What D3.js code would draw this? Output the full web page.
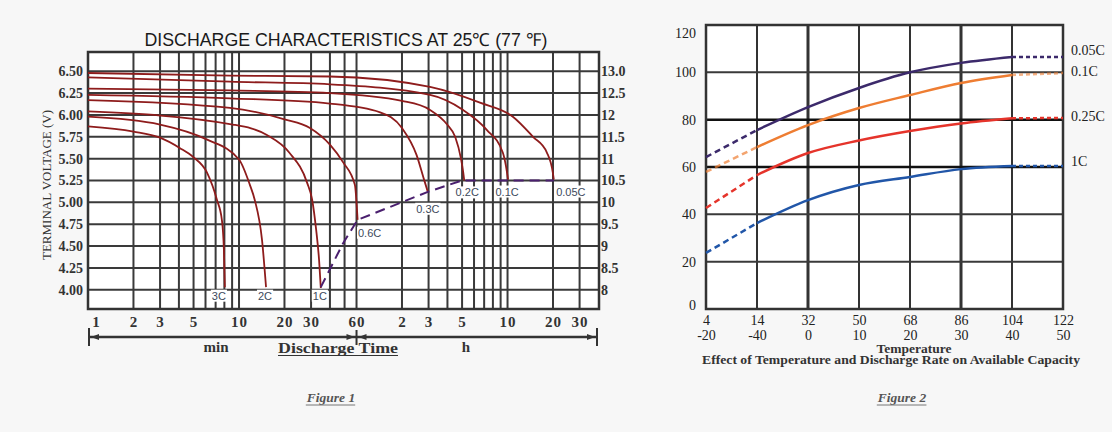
<!DOCTYPE html>
<html>
<head>
<meta charset="utf-8">
<script src="https://cdn.jsdelivr.net/npm/d3@7"></script>
<style>
body { margin: 0; background: #f7f7f7; }
svg { display: block; }
</style>
</head>
<body>
<script>
// ---------- Figure 1 : discharge curves, [minutes, volts] ----------
var rates = ["3C", "2C", "1C", "0.6C", "0.3C", "0.2C", "0.1C", "0.05C"];
var c3C   = [[1,5.87],[2,5.81],[3,5.74],[4.07,5.62],[4.96,5.52],[6.14,5.34],[7.14,5.03],[7.7,4.80],[7.94,4.46],[8.06,4.03]];
var c2C   = [[1,5.98],[3,5.89],[6.1,5.72],[10,5.49],[11.8,5.20],[12.7,5.03],[14.2,4.57],[15.1,4.03]];
var c1C   = [[1,6.04],[9.1,5.89],[15.3,5.77],[21.5,5.57],[28.3,5.22],[30.5,5.03],[32.4,4.69],[33.9,4.34],[34.8,4.02]];
var c06C  = [[1,6.17],[8.7,6.08],[20,5.95],[29.5,5.85],[40,5.66],[48.8,5.46],[58.5,5.20],[61,4.80]];
var c03C  = [[1,6.23],[8.7,6.19],[40,6.13],[86,6.03],[120,5.85],[150,5.54],[168,5.26],[178,5.12]];
var c02C  = [[1,6.30],[8.7,6.28],[40,6.25],[120,6.16],[183,6.06],[239,5.89],[270,5.75],[295,5.50],[305,5.35],[310,5.25]];
var c01C  = [[1,6.43],[8.7,6.38],[40,6.35],[184,6.23],[303,6.06],[437,5.83],[558,5.57],[585,5.42],[605,5.26]];
var c005C = [[1,6.48],[8.7,6.45],[40,6.44],[184,6.32],[394,6.14],[651,5.98],[885,5.75],[1093,5.57],[1197,5.34],[1215,5.26]];
var curves = [c3C, c2C, c1C, c06C, c03C, c02C, c01C, c005C];
// end-of-discharge voltage line (dashed)
var endLine = [[34.8,4.03],[48.8,4.53],[61,4.80],[178,5.12],[300,5.25],[1215,5.25]];

var voltTicks = [4.00,4.25,4.50,4.75,5.00,5.25,5.50,5.75,6.00,6.25,6.50];
var rightVolts = [13.0,12.5,12,11.5,11,10.5,10,9.5,9,8.5,8];
var rightLabels = ["13.0","12.5","12","11.5","11","10.5","10","9.5","9","8.5","8"];
var gridMinutes = [2,3,4,5,6,7,8,9,10,20,30,40,50,60,120,180,240,300,360,420,480,540,600,1200,1800];
var tickMinutes = [1,2,3,5,10,20,30,60,120,180,300,600,1200,1800];
var tickLabels = ["1","2","3","5","10","20","30","60","2","3","5","10","20","30"];

// ---------- Figure 2 : capacity (%) vs temperature ----------
var tempF = ["4","14","32","50","68","86","104","122"];
var tempC = ["-20","-40","0","10","20","30","40","50"];
var capTicks = [0,20,40,60,80,100,120];
var series2 = ["0.05C", "0.1C", "0.25C", "1C"];
var cap005 = [64.2,75.6,85.3,93.4,100,104,106.5,106.5];
var cap01  = [57.9,68.4,77.7,84.9,90.4,95.5,98.9,99.7];
var cap025 = [42.7,56.6,65.9,71.2,75.2,78.4,80.6,80.7];
var cap1   = [23.7,36.3,46.0,52.4,55.8,59.1,60.4,60.4];
var caps = [cap005, cap01, cap025, cap1];
var colors2 = ["#3c2a6b", "#ee7d32", "#e5342b", "#2156a8"];

var SERIF = "'Liberation Serif','DejaVu Serif',serif";
var SANS = "'Liberation Sans',Arial,sans-serif";

var svg = d3.select("body").append("svg")
    .attr("width", 1112)
    .attr("height", 432);

// ================= Figure 1 =================
var x1 = d3.scaleLog().domain([1, 2420]).range([88, 599]);
var y1 = d3.scaleLinear().domain([3.78, 6.72]).range([309, 52]);
var g1 = svg.append("g");

g1.append("rect")
    .attr("x", x1.range()[0]).attr("y", y1.range()[1])
    .attr("width", x1.range()[1] - x1.range()[0])
    .attr("height", y1.range()[0] - y1.range()[1])
    .attr("fill", "#fff");

g1.selectAll(".vg").data(gridMinutes).enter().append("line")
    .attr("x1", d => x1(d)).attr("x2", d => x1(d))
    .attr("y1", y1.range()[1]).attr("y2", y1.range()[0])
    .attr("stroke", "#3a3a3a").attr("stroke-width", 2);

g1.selectAll(".hg").data(voltTicks).enter().append("line")
    .attr("x1", x1.range()[0]).attr("x2", x1.range()[1])
    .attr("y1", d => y1(d)).attr("y2", d => y1(d))
    .attr("stroke", "#3a3a3a").attr("stroke-width", 2);

g1.append("rect")
    .attr("x", x1.range()[0]).attr("y", y1.range()[1])
    .attr("width", x1.range()[1] - x1.range()[0])
    .attr("height", y1.range()[0] - y1.range()[1])
    .attr("fill", "none").attr("stroke", "#333").attr("stroke-width", 2.5);

var line1 = d3.line()
    .x(d => x1(d[0]))
    .y(d => y1(d[1]))
    .curve(d3.curveMonotoneX);

g1.selectAll(".curve").data(curves).enter().append("path")
    .attr("d", line1)
    .attr("fill", "none")
    .attr("stroke", "#8e1c1c")
    .attr("stroke-width", 1.8);

g1.append("path")
    .attr("d", d3.line().x(d => x1(d[0])).y(d => y1(d[1]))(endLine))
    .attr("fill", "none")
    .attr("stroke", "#4a1f6e")
    .attr("stroke-width", 2)
    .attr("stroke-dasharray", "10,6");

// curve labels, placed relative to each curve's end point
var labelOffset = {"3C": [-6, 0], "2C": [-1, 0], "1C": [-1, 0], "0.6C": [12, 14],
    "0.3C": [0, 18], "0.2C": [3, 13], "0.1C": [-1, 13], "0.05C": [17, 13]};
rates.forEach(function(r, i) {
    var last = curves[i][curves[i].length - 1];
    var off = labelOffset[r];
    var lx = x1(last[0]) + off[0];
    var ly = i < 3 ? y1(4.0) + 7 : y1(last[1]) + off[1];
    var t = g1.append("text")
        .attr("x", lx).attr("y", ly)
        .attr("text-anchor", "middle")
        .attr("dominant-baseline", "middle")
        .attr("font-family", SANS)
        .attr("font-size", 11)
        .attr("fill", "#3d4a5c")
        .text(r);
    var b = t.node().getBBox();
    g1.insert("rect", function() { return t.node(); })
        .attr("x", b.x - 1).attr("y", b.y).attr("width", b.width + 2).attr("height", b.height)
        .attr("fill", "#fff");
});

// title
g1.append("text")
    .attr("x", 346).attr("y", 46)
    .attr("text-anchor", "middle")
    .attr("font-family", SANS)
    .attr("font-size", 18)
    .attr("textLength", 403)
    .attr("lengthAdjust", "spacingAndGlyphs")
    .attr("fill", "#1a1a1a")
    .text("DISCHARGE CHARACTERISTICS AT 25\u2103 (77 \u2109)");

// left axis
var ax1 = g1.append("g")
    .attr("transform", "translate(" + x1.range()[0] + ",0)")
    .call(d3.axisLeft(y1).tickValues(voltTicks).tickFormat(d3.format(".2f")).tickSize(0).tickPadding(5));
ax1.select(".domain").remove();
ax1.selectAll("text")
    .attr("font-family", SERIF).attr("font-size", 14).attr("font-weight", "bold").attr("fill", "#333");

// right axis (12 V scale)
var ax1r = g1.append("g")
    .attr("transform", "translate(" + x1.range()[1] + ",0)")
    .call(d3.axisRight(y1).tickValues(rightVolts.map(v => v / 2))
        .tickFormat((d, i) => rightLabels[i]).tickSize(0).tickPadding(2));
ax1r.select(".domain").remove();
ax1r.selectAll("text")
    .attr("font-family", SERIF).attr("font-size", 14).attr("font-weight", "bold").attr("fill", "#333");

g1.append("text")
    .attr("transform", "translate(51,185) rotate(-90)")
    .attr("text-anchor", "middle")
    .attr("font-family", SERIF)
    .attr("font-size", 13)
    .attr("fill", "#333")
    .text("TERMINAL VOLTAGE (V)");

// bottom axis
var axb = g1.append("g")
    .attr("transform", "translate(0," + y1.range()[0] + ")")
    .call(d3.axisBottom(x1).tickValues(tickMinutes).tickFormat((d, i) => tickLabels[i]).tickSize(0).tickPadding(7));
axb.select(".domain").remove();
axb.selectAll("text")
    .attr("font-family", SERIF).attr("font-size", 15).attr("font-weight", "bold")
    .attr("letter-spacing", 1).attr("fill", "#333")
    .attr("dx", (d, i) => i === 0 ? 8 : 0);

// time arrow row
var ay = 337, ax0 = x1.range()[0] + 1, axm = x1(60), axe = x1.range()[1] - 2;
g1.append("line").attr("x1", ax0).attr("x2", axe).attr("y1", ay).attr("y2", ay)
    .attr("stroke", "#333").attr("stroke-width", 2.5);
[[ax0, 328, 346], [axm, 330, 345], [axe, 328, 346]].forEach(function(v) {
    g1.append("line").attr("x1", v[0]).attr("x2", v[0]).attr("y1", v[1]).attr("y2", v[2])
        .attr("stroke", "#333").attr("stroke-width", 2);
});
[[ax0 + 2, -1], [axm - 2, 1], [axm + 2, -1], [axe - 2, 1]].forEach(function(a) {
    var tip = a[0], dir = a[1];
    g1.append("path")
        .attr("d", "M" + tip + "," + ay + "L" + (tip - dir * 8) + "," + (ay - 3) + "L" + (tip - dir * 8) + "," + (ay + 3) + "Z")
        .attr("fill", "#333");
});
g1.append("text").attr("x", 216).attr("y", 352).attr("text-anchor", "middle")
    .attr("font-family", SERIF).attr("font-size", 15).attr("font-weight", "bold").attr("fill", "#333")
    .text("min");
g1.append("text").attr("x", 466).attr("y", 352).attr("text-anchor", "middle")
    .attr("font-family", SERIF).attr("font-size", 15).attr("font-weight", "bold").attr("fill", "#333")
    .text("h");
g1.append("text").attr("x", 338).attr("y", 353).attr("text-anchor", "middle")
    .attr("font-family", SERIF).attr("font-size", 14).attr("font-weight", "bold").attr("fill", "#333")
    .attr("textLength", 120).attr("lengthAdjust", "spacingAndGlyphs")
    .text("Discharge Time");
g1.append("line").attr("x1", 278).attr("x2", 398).attr("y1", 355.5).attr("y2", 355.5)
    .attr("stroke", "#333").attr("stroke-width", 1.2);

// ================= Figure 2 =================
var x2 = d3.scalePoint().domain(tempF).range([706, 1063]);
var x2c = d3.scalePoint().domain(tempC).range([706, 1063]);
var y2 = d3.scaleLinear().domain([0, 120]).range([309, 25]);
var g2 = svg.append("g");

g2.append("rect")
    .attr("x", 706).attr("y", 25).attr("width", 357).attr("height", 284)
    .attr("fill", "#fff");

g2.selectAll(".vg2").data(tempF).enter().append("line")
    .attr("x1", d => x2(d)).attr("x2", d => x2(d))
    .attr("y1", y2.range()[1]).attr("y2", y2.range()[0])
    .attr("stroke", "#333")
    .attr("stroke-width", d => (d === "32" || d === "86") ? 3 : 2);

g2.selectAll(".hg2").data(capTicks).enter().append("line")
    .attr("x1", x2.range()[0]).attr("x2", x2.range()[1])
    .attr("y1", d => y2(d)).attr("y2", d => y2(d))
    .attr("stroke", d => (d === 60 || d === 80) ? "#111" : "#3a3a3a")
    .attr("stroke-width", d => (d === 60 || d === 80) ? 2.5 : 2);

g2.append("rect")
    .attr("x", 706).attr("y", 25).attr("width", 357).attr("height", 284)
    .attr("fill", "none").attr("stroke", "#333").attr("stroke-width", 2.5);

var line2 = d3.line()
    .x(d => x2(d[0]))
    .y(d => y2(d[1]))
    .curve(d3.curveMonotoneX);

caps.forEach(function(vals, i) {
    var pts = vals.map((v, j) => [tempF[j], v]);
    g2.append("path").attr("d", line2(pts.slice(0, 2)))
        .attr("fill", "none").attr("stroke", colors2[i]).attr("stroke-width", 2.5)
        .attr("stroke-dasharray", "6,4").attr("opacity", i === 1 ? 0.7 : 1);
    g2.append("path").attr("d", line2(pts.slice(1, 7)))
        .attr("fill", "none").attr("stroke", colors2[i]).attr("stroke-width", 2.5);
    g2.append("path").attr("d", line2(pts.slice(6)))
        .attr("fill", "none").attr("stroke", colors2[i]).attr("stroke-width", 2.5)
        .attr("stroke-dasharray", "4,3").attr("opacity", i === 1 ? 0.6 : 1);
    g2.append("text")
        .attr("x", 1071)
        .attr("y", y2(vals[vals.length - 1]) + (i === 0 ? -5 : i === 3 ? -3 : 0))
        .attr("dominant-baseline", "middle")
        .attr("font-family", SERIF).attr("font-size", 14).attr("fill", "#222")
        .text(series2[i]);
});

var ay2 = g2.append("g")
    .attr("transform", "translate(706,0)")
    .call(d3.axisLeft(y2).tickValues(capTicks).tickSize(0).tickPadding(10));
ay2.select(".domain").remove();
ay2.selectAll("text").attr("font-family", SERIF).attr("font-size", 14).attr("fill", "#222")
    .attr("dy", d => d === 120 ? "0.9em" : d === 0 ? "0.05em" : "0.32em");

var axF = g2.append("g")
    .attr("transform", "translate(0,309)")
    .call(d3.axisBottom(x2).tickSize(0).tickPadding(6));
axF.select(".domain").remove();
axF.selectAll("text").attr("font-family", SERIF).attr("font-size", 14).attr("fill", "#222");

var axC = g2.append("g")
    .attr("transform", "translate(0,325)")
    .call(d3.axisBottom(x2c).tickSize(0).tickPadding(5));
axC.select(".domain").remove();
axC.selectAll("text").attr("font-family", SERIF).attr("font-size", 14).attr("fill", "#222");

g2.append("text").attr("x", 914).attr("y", 353).attr("text-anchor", "middle")
    .attr("font-family", SERIF).attr("font-size", 11.5).attr("font-weight", "bold").attr("fill", "#333")
    .attr("textLength", 75).attr("lengthAdjust", "spacingAndGlyphs")
    .text("Temperature");
g2.append("text").attr("x", 891).attr("y", 364).attr("text-anchor", "middle")
    .attr("font-family", SERIF).attr("font-size", 12.5).attr("font-weight", "bold").attr("fill", "#333")
    .attr("textLength", 378).attr("lengthAdjust", "spacingAndGlyphs")
    .text("Effect of Temperature and Discharge Rate on Available Capacity");

// figure captions
[["Figure 1", 331], ["Figure 2", 902]].forEach(function(c) {
    var t = svg.append("text").attr("x", c[1]).attr("y", 402).attr("text-anchor", "middle")
        .attr("font-family", SERIF).attr("font-size", 13.5).attr("font-style", "italic")
        .attr("font-weight", "bold").attr("fill", "#555")
        .text(c[0]);
    var b = t.node().getBBox();
    svg.append("line").attr("x1", b.x).attr("x2", b.x + b.width).attr("y1", 405).attr("y2", 405)
        .attr("stroke", "#777").attr("stroke-width", 1);
});
</script>
</body>
</html>
